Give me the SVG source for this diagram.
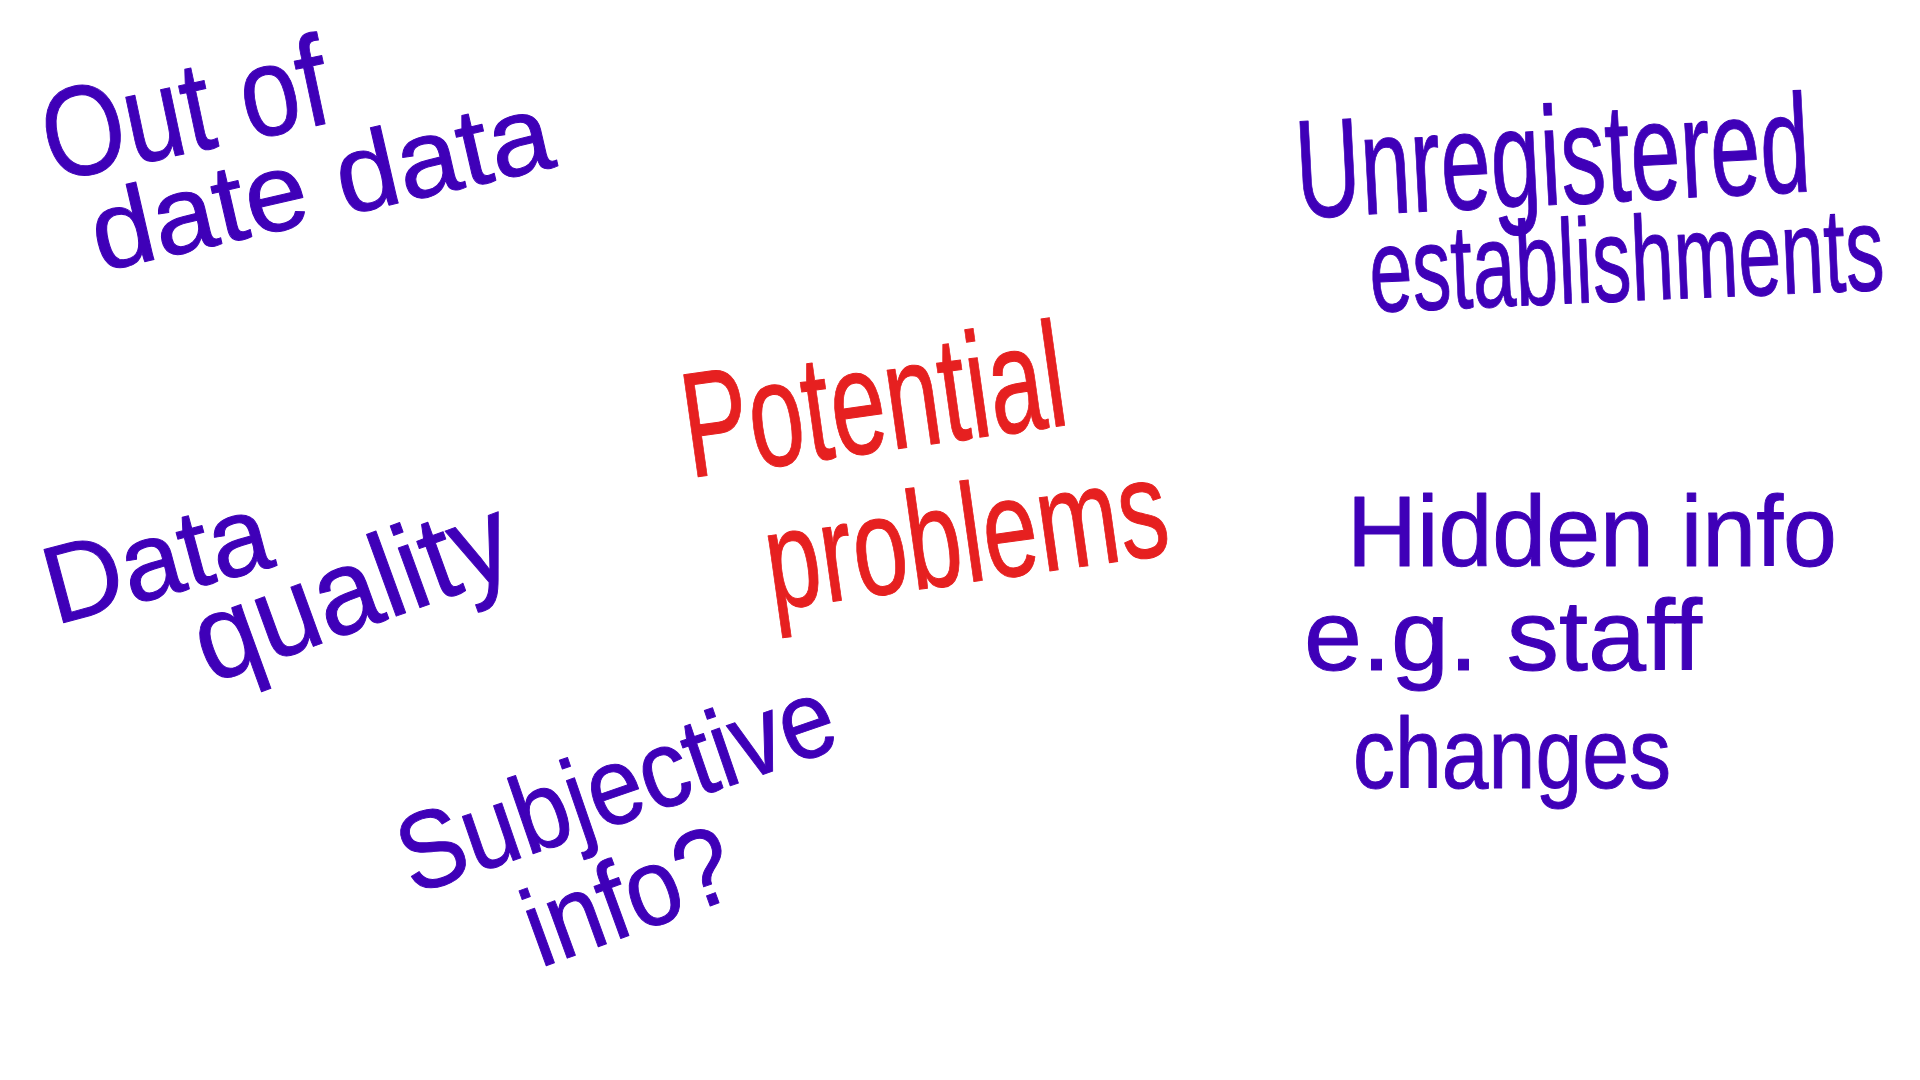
<svg xmlns="http://www.w3.org/2000/svg" width="1920" height="1080" viewBox="0 0 1920 1080">
<style>
text{font-family:"Liberation Sans","DejaVu Sans",sans-serif;stroke-width:1;stroke-linejoin:round;paint-order:stroke}
.p{fill:#3f00b8;stroke:#3f00b8}
.r{fill:#e62020;stroke:#e62020}
</style>
<rect width="1920" height="1080" fill="#ffffff"/>
<g id="out-of-date-data">
<text class="p" x="52" y="182" font-size="128" textLength="290" lengthAdjust="spacingAndGlyphs" transform="rotate(-12 52 182)">Out of</text>
<text class="p" x="100" y="272" font-size="110" textLength="470" lengthAdjust="spacingAndGlyphs" transform="rotate(-13 100 272)">date data</text>
</g>
<g id="unregistered-establishments">
<text class="p" x="1298" y="218" font-size="140" textLength="515" lengthAdjust="spacingAndGlyphs" transform="rotate(-3 1298 218)">Unregistered</text>
<text class="p" x="1371" y="312" font-size="120" textLength="515" lengthAdjust="spacingAndGlyphs" transform="rotate(-2.5 1371 312)">establishments</text>
</g>
<g id="potential-problems">
<text class="r" x="690" y="478" font-size="150" textLength="385" lengthAdjust="spacingAndGlyphs" transform="rotate(-8 690 478)">Potential</text>
<text class="r" x="772" y="610" font-size="140" textLength="405" lengthAdjust="spacingAndGlyphs" transform="rotate(-8 772 610)">problems</text>
</g>
<g id="data-quality">
<text class="p" x="55" y="625" font-size="110" textLength="230" lengthAdjust="spacingAndGlyphs" transform="rotate(-15 55 625)">Data</text>
<text class="p" x="210" y="684" font-size="120" textLength="330" lengthAdjust="spacingAndGlyphs" transform="rotate(-20 210 684)">quality</text>
</g>
<g id="subjective-info">
<text class="p" x="413" y="895" font-size="110" textLength="455" lengthAdjust="spacingAndGlyphs" transform="rotate(-19 413 895)">Subjective</text>
<text class="p" x="540" y="968" font-size="110" textLength="215" lengthAdjust="spacingAndGlyphs" transform="rotate(-20 540 968)">info?</text>
</g>
<g id="hidden-info">
<text class="p" x="1347" y="566" font-size="100" textLength="490" lengthAdjust="spacingAndGlyphs">Hidden info</text>
<text class="p" x="1304" y="670" font-size="100" textLength="398" lengthAdjust="spacingAndGlyphs">e.g. staff</text>
<text class="p" x="1353" y="788" font-size="100" textLength="318" lengthAdjust="spacingAndGlyphs">changes</text>
</g>
</svg>
